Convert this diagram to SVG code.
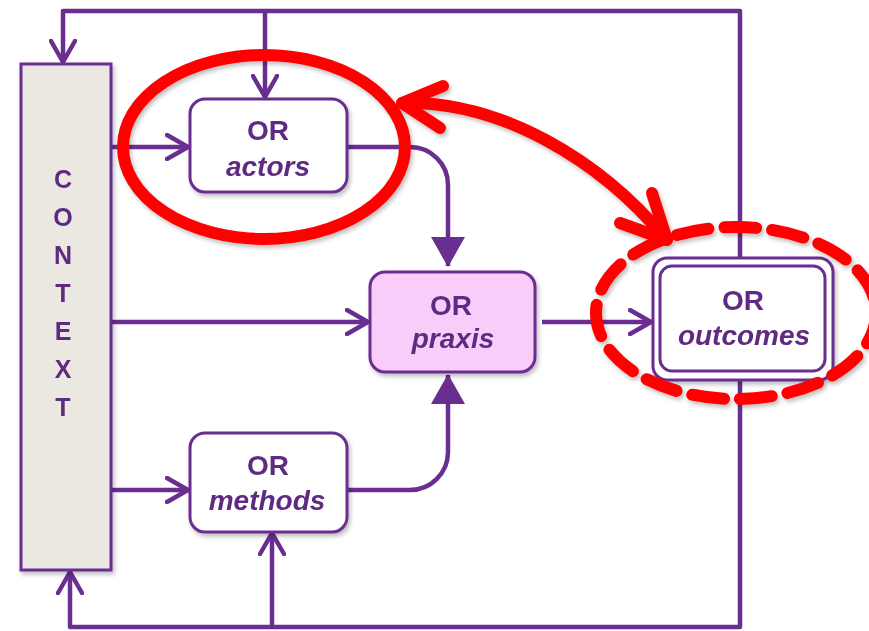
<svg xmlns="http://www.w3.org/2000/svg" width="869" height="631" viewBox="0 0 869 631">
<defs>
<style>
.ln{fill:none;stroke:#6a2e91;stroke-width:4.5;stroke-linejoin:round}
.box{fill:#fff;stroke:#6a2e91;stroke-width:3}
.t{font-family:"Liberation Sans",Arial,sans-serif;font-weight:bold;font-size:28px;fill:#5e2b82;text-anchor:middle}
.i{font-style:italic}
.ctx{font-family:"Liberation Sans",Arial,sans-serif;font-weight:bold;font-size:25px;fill:#5e2b82;text-anchor:middle}
.red{fill:none;stroke:#ff0000;stroke-width:12;stroke-linecap:round;stroke-linejoin:round}
</style>
<marker id="open" viewBox="0 0 26 28" refX="23" refY="14" markerWidth="26" markerHeight="28" markerUnits="userSpaceOnUse" orient="auto">
<path d="M2,2 L23,14 L2,26" fill="none" stroke="#6a2e91" stroke-width="4.5" stroke-linecap="round" stroke-linejoin="round"/>
</marker>
<marker id="tri" viewBox="0 0 30 34" refX="29" refY="17" markerWidth="30" markerHeight="34" markerUnits="userSpaceOnUse" orient="auto">
<path d="M0,0 L30,17 L0,34 Z" fill="#6a2e91"/>
</marker>
<filter id="sh" x="-10%" y="-10%" width="130%" height="130%">
<feDropShadow dx="2" dy="3" stdDeviation="2" flood-color="#000" flood-opacity="0.25"/>
</filter>
</defs>
<rect width="869" height="631" fill="#fff"/>

<g id="connectors">
<path class="ln" d="M740,258 V11 H63 V62" marker-end="url(#open)"/>
<path class="ln" d="M265,11 V97" marker-end="url(#open)"/>
<path class="ln" d="M740,380 V627 H70 V572" marker-end="url(#open)"/>
<path class="ln" d="M272,627 V533" marker-end="url(#open)"/>
<path class="ln" d="M111,147 H188" marker-end="url(#open)"/>
<path class="ln" d="M111,322 H368" marker-end="url(#open)"/>
<path class="ln" d="M111,490 H188" marker-end="url(#open)"/>
<path class="ln" d="M542,322 H651" marker-end="url(#open)"/>
<path class="ln" d="M347,147 H410 A38,38 0 0 1 448,185 V266" marker-end="url(#tri)"/>
<path class="ln" d="M347,490 H410 A38,38 0 0 0 448,452 V375" marker-end="url(#tri)"/>
</g>

<g id="context" filter="url(#sh)">
<rect x="21" y="64" width="90" height="506" fill="#ebe8e1" stroke="#6a2e91" stroke-width="3"/>
<text class="ctx" x="63" y="188">C</text>
<text class="ctx" x="63" y="226">O</text>
<text class="ctx" x="63" y="264">N</text>
<text class="ctx" x="63" y="302">T</text>
<text class="ctx" x="63" y="340">E</text>
<text class="ctx" x="63" y="378">X</text>
<text class="ctx" x="63" y="416">T</text>
</g>

<g id="actors" filter="url(#sh)">
<rect class="box" x="190" y="99" width="157" height="93" rx="15"/>
<text class="t" x="268" y="140">OR</text>
<text class="t i" x="268" y="176">actors</text>
</g>

<g id="praxis" filter="url(#sh)">
<rect x="370" y="272" width="165" height="100" rx="15" fill="#f9ccf9" stroke="#6a2e91" stroke-width="3"/>
<text class="t" x="451" y="315">OR</text>
<text class="t i" x="453" y="348">praxis</text>
</g>

<g id="outcomes" filter="url(#sh)">
<rect class="box" x="653" y="258" width="180" height="122" rx="14"/>
<rect class="box" x="660" y="266" width="165" height="105" rx="12"/>
<text class="t" x="743" y="310">OR</text>
<text class="t i" x="744" y="345">outcomes</text>
</g>

<g id="methods" filter="url(#sh)">
<rect class="box" x="190" y="433" width="157" height="99" rx="15"/>
<text class="t" x="268" y="475">OR</text>
<text class="t i" x="267" y="510">methods</text>
</g>

<g id="highlights" filter="url(#sh)">
<ellipse class="red" cx="264" cy="147" rx="141" ry="92"/>
<ellipse class="red" cx="736" cy="313" rx="140" ry="86" stroke-dasharray="32 16"/>
<path class="red" d="M402,103 C500,100 600,160 665,238"/>
<path class="red" d="M443,86 L402,103 L440,128"/>
<path class="red" d="M652,193 L667,240 L620,223"/>
</g>
</svg>
